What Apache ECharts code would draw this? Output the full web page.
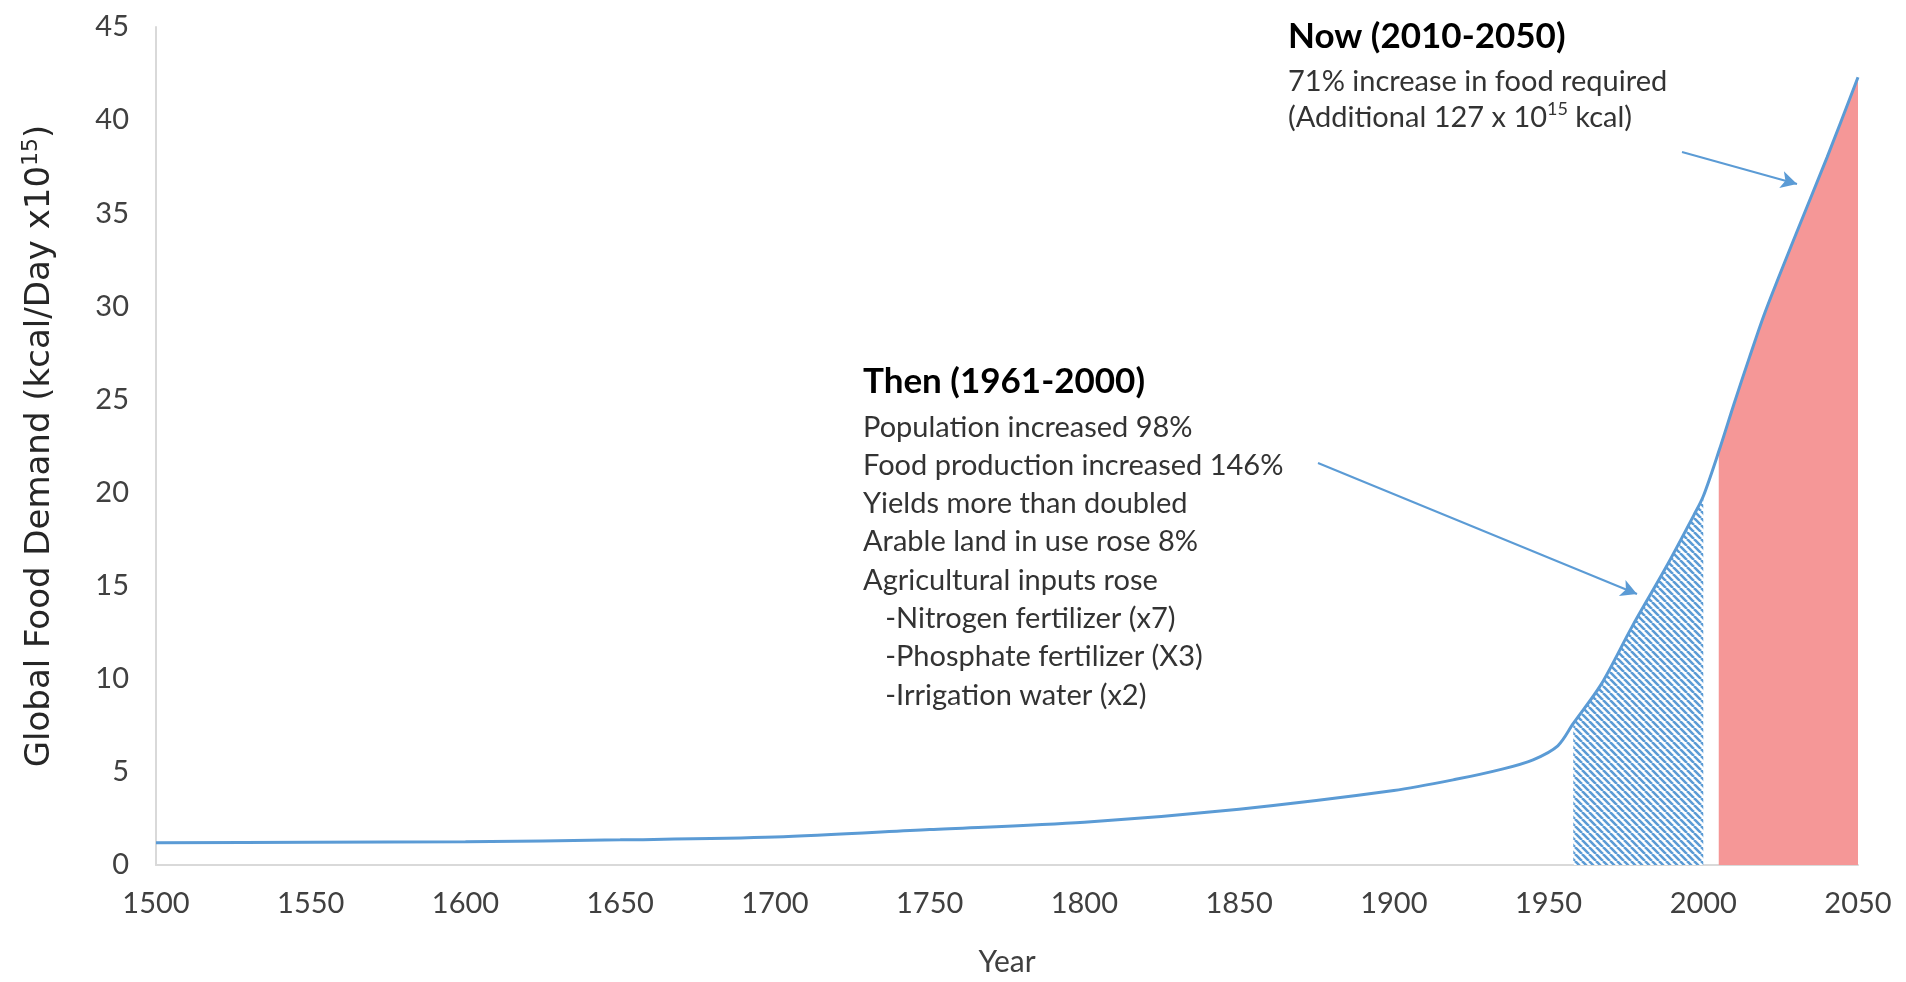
<!DOCTYPE html>
<html>
<head>
<meta charset="utf-8">
<script src="https://cdn.jsdelivr.net/npm/echarts@6/dist/echarts.min.js"></script>
<style>
  html, body { margin: 0; padding: 0; background: #ffffff; }
  #chart { width: 1906px; height: 982px; }
</style>
</head>
<body>
<div id="chart"></div>
<script>
// ---- Data ----
const years  = [1500, 1550, 1600, 1650, 1700, 1750, 1800, 1850, 1900, 1920, 1935, 1945, 1953, 1958, 1967, 1977, 1988, 1997, 2000, 2005, 2010, 2015, 2020, 2030, 2040, 2050];
const demand = [1.2, 1.22, 1.25, 1.35, 1.5, 1.9, 2.3, 3.0, 4.0, 4.6, 5.15, 5.65, 6.4, 7.6, 9.7, 12.8, 16.0, 18.8, 19.8, 22.2, 24.8, 27.3, 29.7, 33.9, 38.0, 42.3];
const thenRange = [1958, 2000];   // hatched period
const nowRange  = [2005, 2050];   // red period
const xMin = 1500, xMax = 2050, xStep = 50;
const yMin = 0, yMax = 45, yStep = 5;

const thenTitle = 'Then (1961-2000)';
const thenLines = [
  'Population increased 98%',
  'Food production increased 146%',
  'Yields more than doubled',
  'Arable land in use rose 8%',
  'Agricultural inputs rose',
  '   -Nitrogen fertilizer (x7)',
  '   -Phosphate fertilizer (X3)',
  '   -Irrigation water (x2)'
];
const nowTitle = 'Now (2010-2050)';
const nowLines = [
  '71% increase in food required',
  '(Additional 127 x 10{sup|15} kcal)'
];

// ---- Build ----
const allData = years.map((y, i) => [y, demand[i]]);
const inRange = (r) => allData.filter(d => d[0] >= r[0] && d[0] <= r[1]);

function hatchPattern() {
  const s = 7;
  const c = document.createElement('canvas');
  c.width = s; c.height = s;
  const g = c.getContext('2d');
  g.fillStyle = '#ffffff';
  g.fillRect(0, 0, s, s);
  g.strokeStyle = '#5B9BD5';
  g.lineWidth = 2.6;
  g.beginPath();
  for (const k of [-s, 0, s]) { g.moveTo(k, 0); g.lineTo(k + s, s); }
  g.stroke();
  return c;
}

const BLUE = '#5B9BD5';
const FONT = 'Lato, "Open Sans", sans-serif';
const TITLE_FONT = '"DejaVu Sans", "Liberation Sans", sans-serif';

const chart = echarts.init(document.getElementById('chart'), null, { renderer: 'canvas' });
chart.setOption({
  animation: false,
  backgroundColor: '#ffffff',
  grid: { left: 156, right: 48, top: 27, bottom: 109, containLabel: false },
  xAxis: {
    type: 'value', min: xMin, max: xMax, interval: xStep,
    axisLine: { show: true, lineStyle: { color: '#d9d9d9', width: 2 } },
    axisTick: { show: false },
    splitLine: { show: false },
    axisLabel: { fontFamily: FONT, fontSize: 29, color: '#404040', margin: 24, formatter: v => String(v) },
    name: 'Year', nameLocation: 'middle', nameGap: 82,
    nameTextStyle: { fontFamily: FONT, fontSize: 30, color: '#404040' }
  },
  yAxis: {
    type: 'value', min: yMin, max: yMax, interval: yStep,
    axisLine: { show: true, lineStyle: { color: '#d9d9d9', width: 2 } },
    axisTick: { show: false },
    splitLine: { show: false },
    axisLabel: { fontFamily: FONT, fontSize: 29, color: '#404040', margin: 27 },
    name: 'Global Food Demand (kcal/Day x10{sup|15})',
    nameLocation: 'middle', nameRotate: 90, nameGap: 96,
    nameTextStyle: {
      fontFamily: TITLE_FONT, fontSize: 34, color: '#262626', lineHeight: 40,
      rich: { sup: { fontFamily: TITLE_FONT, fontSize: 22, color: '#262626', lineHeight: 26, verticalAlign: 'top' } }
    }
  },
  series: [
    {
      name: 'then', type: 'line', data: inRange(thenRange), smooth: 0.3, symbol: 'none',
      lineStyle: { width: 0, opacity: 0 },
      areaStyle: { color: { image: hatchPattern(), repeat: 'repeat' }, opacity: 1 },
      z: 1, silent: true
    },
    {
      name: 'now', type: 'line', data: inRange(nowRange), smooth: 0.3, symbol: 'none',
      lineStyle: { width: 0, opacity: 0 },
      areaStyle: { color: '#F59797', opacity: 1 },
      z: 1, silent: true
    },
    {
      name: 'demand', type: 'line', data: allData, smooth: 0.3, symbol: 'none',
      lineStyle: { color: BLUE, width: 3 },
      z: 3,
      markLine: {
        silent: true, symbol: ['none', 'arrow'], symbolSize: [13, 16],
        label: { show: false },
        lineStyle: { color: BLUE, width: 2, type: 'solid' },
        data: [
          [{ x: 1318, y: 463 }, { x: 1637, y: 594 }],
          [{ x: 1682, y: 152 }, { x: 1797, y: 184 }]
        ]
      }
    }
  ],
  graphic: [
    { type: 'text', left: 863, top: 364, style: { text: thenTitle, font: 'bold 35px ' + FONT, fill: '#000000' } },
    { type: 'text', left: 863, top: 408, style: { text: thenLines.join('\n'), font: '29px ' + FONT, fill: '#333333', lineHeight: 38.3 } },
    { type: 'text', left: 1288, top: 19, style: { text: nowTitle, font: 'bold 35px ' + FONT, fill: '#000000' } },
    { type: 'text', left: 1288, top: 64, style: {
        text: nowLines.join('\n'), font: '29px ' + FONT, fill: '#333333', lineHeight: 36,
        rich: { sup: { font: '18px ' + FONT, fill: '#333333', lineHeight: 24, verticalAlign: 'top' } }
    } }
  ]
});
</script>
</body>
</html>
